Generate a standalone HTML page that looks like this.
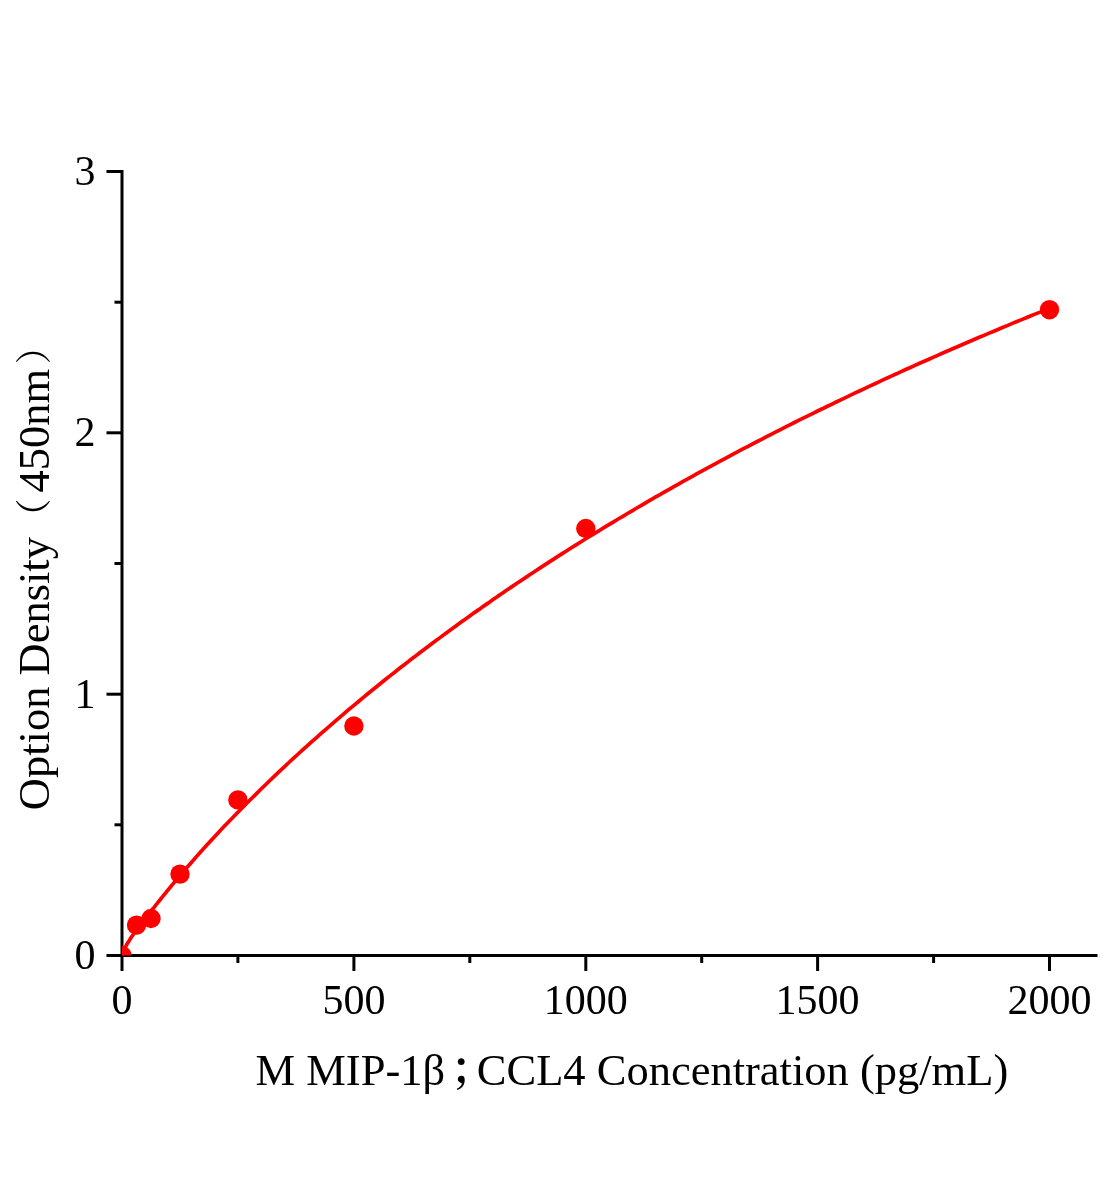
<!DOCTYPE html>
<html><head><meta charset="utf-8"><title>M MIP-1β CCL4 standard curve</title>
<style>
html,body{margin:0;padding:0;background:#fff;}
svg{display:block;}
text{font-family:"Liberation Serif","Noto Serif CJK SC",serif;fill:#000;}
</style></head><body>
<svg width="1104" height="1200" viewBox="0 0 1104 1200">
<rect width="1104" height="1200" fill="#fff"/>
<defs><clipPath id="plot"><rect x="122" y="100" width="982" height="855.5"/></clipPath></defs>

<g stroke="#000" stroke-width="3" fill="none">
<line x1="122" y1="170" x2="122" y2="957"/>
<line x1="120.5" y1="955.5" x2="1097.5" y2="955.5"/>
<line x1="106.5" y1="955.5" x2="122" y2="955.5"/>
<line x1="106.5" y1="694.2" x2="122" y2="694.2"/>
<line x1="106.5" y1="432.8" x2="122" y2="432.8"/>
<line x1="106.5" y1="171.5" x2="122" y2="171.5"/>
<line x1="114.5" y1="824.8" x2="122" y2="824.8"/>
<line x1="114.5" y1="563.5" x2="122" y2="563.5"/>
<line x1="114.5" y1="302.2" x2="122" y2="302.2"/>
<line x1="122.0" y1="955.5" x2="122.0" y2="971"/>
<line x1="353.9" y1="955.5" x2="353.9" y2="971"/>
<line x1="585.8" y1="955.5" x2="585.8" y2="971"/>
<line x1="817.6" y1="955.5" x2="817.6" y2="971"/>
<line x1="1049.5" y1="955.5" x2="1049.5" y2="971"/>
<line x1="237.9" y1="955.5" x2="237.9" y2="963"/>
<line x1="469.8" y1="955.5" x2="469.8" y2="963"/>
<line x1="701.7" y1="955.5" x2="701.7" y2="963"/>
<line x1="933.6" y1="955.5" x2="933.6" y2="963"/>
</g>
<text x="95.5" y="969.0" font-size="42" text-anchor="end">0</text>
<text x="95.5" y="707.7" font-size="42" text-anchor="end">1</text>
<text x="95.5" y="446.3" font-size="42" text-anchor="end">2</text>
<text x="95.5" y="185.0" font-size="42" text-anchor="end">3</text>
<text x="122.0" y="1013.5" font-size="42" text-anchor="middle">0</text>
<text x="353.9" y="1013.5" font-size="42" text-anchor="middle">500</text>
<text x="585.8" y="1013.5" font-size="42" text-anchor="middle">1000</text>
<text x="817.6" y="1013.5" font-size="42" text-anchor="middle">1500</text>
<text x="1049.5" y="1013.5" font-size="42" text-anchor="middle">2000</text>
<text x="255.6" y="1084.7" font-size="44.5">M MIP-1β</text>
<text x="450" y="1084.2" font-size="44.5" font-weight="600">；</text>
<text x="476.8" y="1084.7" font-size="44.5">CCL4 Concentration (pg/mL)</text>
<text transform="translate(49.2,810.2) rotate(-90)" font-size="44.5">Option Density</text>
<text transform="translate(46.65,534.8) rotate(-90)" font-size="36.2">（</text>
<text transform="translate(49.2,492.5) rotate(-90)" font-size="44.5">450nm</text>
<text transform="translate(46.65,364.2) rotate(-90)" font-size="36.2">）</text>
<g clip-path="url(#plot)">
<polyline points="122.0,955.5 123.2,952.1 124.3,949.4 125.5,947.0 126.6,944.8 127.8,942.8 129.0,940.9 130.1,939.1 131.3,937.3 132.4,935.7 133.6,934.0 134.8,932.4 135.9,930.8 137.1,929.3 138.2,927.7 139.4,926.2 140.6,924.7 141.7,923.2 142.9,921.6 144.0,920.1 145.2,918.6 146.3,917.1 147.5,915.7 148.7,914.2 149.8,912.7 151.0,911.2 152.1,909.7 153.3,908.3 154.5,906.8 155.6,905.3 156.8,903.9 157.9,902.4 159.1,901.0 160.3,899.5 161.4,898.1 162.6,896.6 163.7,895.2 164.9,893.8 166.1,892.3 167.2,890.9 168.4,889.5 173.0,883.9 177.7,878.4 182.3,872.9 186.9,867.5 191.6,862.2 196.2,856.9 200.8,851.7 205.5,846.6 210.1,841.5 214.8,836.5 219.4,831.5 224.0,826.6 228.7,821.8 233.3,817.0 237.9,812.2 242.6,807.5 247.2,802.8 251.8,798.2 256.5,793.6 261.1,789.0 265.8,784.5 270.4,780.0 275.0,775.6 279.7,771.2 284.3,766.8 288.9,762.5 293.6,758.2 298.2,754.0 302.9,749.7 307.5,745.6 312.1,741.4 316.8,737.3 321.4,733.2 326.1,729.1 330.7,725.1 335.3,721.1 340.0,717.1 344.6,713.1 349.2,709.2 353.9,705.3 358.5,701.5 363.1,697.6 367.8,693.8 372.4,690.0 377.1,686.3 381.7,682.5 386.3,678.8 391.0,675.1 395.6,671.5 400.2,667.8 404.9,664.2 409.5,660.6 414.2,657.1 418.8,653.5 423.4,650.0 428.1,646.5 432.7,643.0 437.4,639.6 442.0,636.1 446.6,632.7 451.3,629.3 455.9,625.9 460.5,622.6 465.2,619.2 469.8,615.9 474.4,612.6 479.1,609.4 483.7,606.1 488.4,602.9 493.0,599.6 497.6,596.4 502.3,593.3 506.9,590.1 511.6,586.9 516.2,583.8 520.8,580.7 525.5,577.6 530.1,574.5 534.7,571.5 539.4,568.4 544.0,565.4 548.6,562.4 553.3,559.4 557.9,556.4 562.6,553.4 567.2,550.5 571.8,547.5 576.5,544.6 581.1,541.7 585.8,538.8 590.4,536.0 595.0,533.1 599.7,530.3 604.3,527.4 608.9,524.6 613.6,521.8 618.2,519.0 622.9,516.3 627.5,513.5 632.1,510.8 636.8,508.0 641.4,505.3 646.0,502.6 650.7,499.9 655.3,497.2 660.0,494.6 664.6,491.9 669.2,489.3 673.9,486.7 678.5,484.1 683.1,481.4 687.8,478.9 692.4,476.3 697.0,473.7 701.7,471.2 706.3,468.6 711.0,466.1 715.6,463.6 720.2,461.1 724.9,458.6 729.5,456.1 734.1,453.6 738.8,451.2 743.4,448.7 748.1,446.3 752.7,443.9 757.3,441.5 762.0,439.1 766.6,436.7 771.2,434.3 775.9,431.9 780.5,429.6 785.2,427.2 789.8,424.9 794.4,422.5 799.1,420.2 803.7,417.9 808.4,415.6 813.0,413.3 817.6,411.0 822.3,408.8 826.9,406.5 831.5,404.3 836.2,402.0 840.8,399.8 845.5,397.6 850.1,395.4 854.7,393.2 859.4,391.0 864.0,388.8 868.6,386.6 873.3,384.5 877.9,382.3 882.5,380.1 887.2,378.0 891.8,375.9 896.5,373.8 901.1,371.6 905.7,369.5 910.4,367.5 915.0,365.4 919.6,363.3 924.3,361.2 928.9,359.2 933.6,357.1 938.2,355.1 942.8,353.0 947.5,351.0 952.1,349.0 956.8,347.0 961.4,345.0 966.0,343.0 970.7,341.0 975.3,339.0 979.9,337.0 984.6,335.1 989.2,333.1 993.9,331.2 998.5,329.2 1003.1,327.3 1007.8,325.4 1012.4,323.4 1017.0,321.5 1021.7,319.6 1026.3,317.7 1031.0,315.8 1035.6,313.9 1040.2,312.1 1044.9,310.2 1049.5,308.3" fill="none" stroke="#f00" stroke-width="3.7" stroke-linejoin="round"/>
<circle cx="122.0" cy="955.5" r="9.7" fill="#f00"/>
<circle cx="136.5" cy="925.1" r="9.7" fill="#f00"/>
<circle cx="151.0" cy="918.5" r="9.7" fill="#f00"/>
<circle cx="180.0" cy="874.1" r="9.7" fill="#f00"/>
<circle cx="237.9" cy="799.9" r="9.7" fill="#f00"/>
<circle cx="353.9" cy="726.0" r="9.7" fill="#f00"/>
<circle cx="585.8" cy="528.5" r="9.7" fill="#f00"/>
<circle cx="1049.5" cy="309.7" r="9.7" fill="#f00"/>
</g>
</svg></body></html>
